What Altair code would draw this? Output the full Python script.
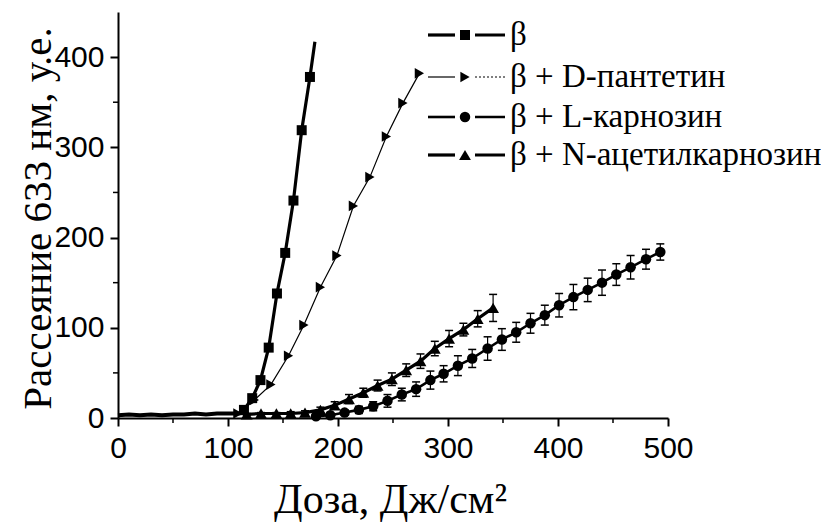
import altair as alt
import pandas as pd

# ---------------- data ----------------
NAMES = ["β", "β + D-пантетин", "β + L-карнозин", "β + N-ацетилкарнозин"]

# common flat start of all curves (before aggregation begins)
base_dose = [0, 10, 20, 30, 40, 50, 60, 70, 80, 90, 100, 110, 116]
base_val = [3, 4, 3, 4, 3, 4, 4, 5, 4, 5, 5, 5, 6]

# β
b_dose = [114.5, 122, 129.5, 137, 144.5, 152, 159.5, 167, 174.5, 179]
b_val = [9, 22, 42, 78, 138, 183, 241, 319, 378, 417]

# β + D-пантетин
d_dose = [109, 124, 139, 155, 169, 184, 199, 214, 229, 244, 259, 274]
d_val = [5, 20, 37, 69, 103, 145, 180, 235, 267, 312, 349, 382]

# β + L-карнозин
l_dose = [180, 193, 206, 219, 232, 245, 258, 271, 284, 296, 309, 322, 336,
          349, 362, 375, 388, 401, 414, 427, 440, 453, 466, 480, 493]
l_val = [2, 3, 6, 9, 13, 19, 26, 32, 42, 49, 58, 66, 77,
         87, 95, 105, 114, 125, 134, 142, 150, 159, 167, 176, 184]
l_err = [1, 2, 3, 4, 5, 7, 7, 8, 10, 9, 11, 10, 13,
         12, 11, 11, 11, 13, 14, 13, 14, 12, 13, 11, 9]

# β + N-ацетилкарнозин
n_dose = [117, 130, 144, 157, 170, 184, 197, 210, 223, 236, 249, 262, 275,
          288, 301, 314, 327, 341]
n_val = [4, 5, 5, 5, 6, 9, 14, 21, 28, 36, 43, 53, 63, 77, 88, 98, 110, 122]
n_err = [1, 1, 1, 2, 2, 3, 4, 5, 5, 6, 7, 7, 8, 8, 9, 7, 9, 15]

X_TICKS = [0, 100, 200, 300, 400, 500]
X_MINOR = [50, 150, 250, 350, 450]
Y_TICKS = [0, 100, 200, 300, 400]
Y_MINOR = [50, 150, 250, 350]

# ---------------- tables ----------------
SERIES = [(NAMES[0], b_dose, b_val, None), (NAMES[1], d_dose, d_val, None),
          (NAMES[2], l_dose, l_val, l_err), (NAMES[3], n_dose, n_val, n_err)]

# per-series styling (not data)
STYLE = {
    NAMES[0]: dict(shape="square", size=100, width=3.2, dash=[1, 0]),
    NAMES[1]: dict(shape="triangle-right", size=115, width=1.2, dash=[2, 2]),
    NAMES[2]: dict(shape="circle", size=110, width=2.6, dash=[1, 0]),
    NAMES[3]: dict(shape="triangle-up", size=140, width=3.2, dash=[1, 0]),
}

W, H = 550, 406
LEG_Y = [23, 65, 105, 143]

xs = alt.Scale(domain=[0, 500], nice=False)
ys = alt.Scale(domain=[0, 450], nice=False)

SANS = "Liberation Sans"
SERIF = "Liberation Serif"

x_axis = alt.Axis(values=X_TICKS, title="Доза, Дж/см²", titleFont=SERIF,
                  titleFontSize=42, titleFontWeight="normal", titleColor="black",
                  titleX=272, titleY=94, titleBaseline="alphabetic",
                  labelFont=SANS, labelFontSize=30, labelColor="black",
                  labelPadding=7, labelFlush=False, tickSize=8, tickWidth=2,
                  tickColor="black", domainColor="black", domainWidth=2, grid=False)
y_axis = alt.Axis(values=Y_TICKS, title="Рассеяние 633 нм, у.е.", titleFont=SERIF,
                  titleFontSize=41, titleFontWeight="normal", titleColor="black",
                  titleX=-68, titleY=206, titleAngle=270, titleBaseline="alphabetic",
                  titleAlign="center",
                  labelFont=SANS, labelFontSize=30, labelColor="black",
                  labelPadding=6, labelFlush=False, tickSize=8, tickWidth=2,
                  tickColor="black", domainColor="black", domainWidth=2, grid=False)

X = alt.X("dose:Q", scale=xs, axis=x_axis)
Y = alt.Y("val:Q", scale=ys, axis=y_axis)

layers = []
base_df = pd.DataFrame({"dose": base_dose, "val": base_val})
layers.append(alt.Chart(base_df).mark_line(color="black", strokeWidth=4).encode(x=X, y=Y))

for name, ds, vs, es in SERIES:
    st = STYLE[name]
    sdf = pd.DataFrame({"dose": ds, "val": vs})
    layers.append(alt.Chart(sdf).mark_line(color="black", strokeWidth=st["width"]).encode(x=X, y=Y))
    if es is not None:
        edf = pd.DataFrame({"dose": ds, "lo": [v - e for v, e in zip(vs, es)],
                            "hi": [v + e for v, e in zip(vs, es)]})
        layers.append(alt.Chart(edf).mark_rule(color="black", strokeWidth=1.2).encode(
            x=alt.X("dose:Q", scale=xs), y=alt.Y("lo:Q", scale=ys), y2="hi:Q"))
        for fld in ["lo", "hi"]:
            layers.append(alt.Chart(edf).mark_tick(color="black", orient="horizontal", size=8,
                                                   thickness=1.5, opacity=1).encode(
                x=alt.X("dose:Q", scale=xs), y=alt.Y(f"{fld}:Q", scale=ys)))
    layers.append(alt.Chart(sdf).transform_filter("datum.val <= 400").mark_point(
        filled=True, color="black", opacity=1, shape=st["shape"], size=st["size"]
    ).encode(x=X, y=Y))

# minor ticks
layers.append(alt.Chart(pd.DataFrame({"t": X_MINOR})).mark_rule(color="black", strokeWidth=1.5).encode(
    x=alt.X("t:Q", scale=xs), y=alt.value(H), y2=alt.value(H + 5)))
layers.append(alt.Chart(pd.DataFrame({"t": Y_MINOR})).mark_rule(color="black", strokeWidth=1.5).encode(
    y=alt.Y("t:Q", scale=ys), x=alt.value(0), x2=alt.value(-5)))

# ---------------- legend ----------------
for name, ly in zip(NAMES, LEG_Y):
    st = STYLE[name]
    ldf = pd.DataFrame({"series": [name]})
    layers.append(alt.Chart(ldf).mark_rule(color="black", strokeWidth=st["width"]).encode(
        x=alt.value(310), x2=alt.value(337), y=alt.value(ly)))
    layers.append(alt.Chart(ldf).mark_rule(color="black", strokeWidth=st["width"],
                                           strokeDash=st["dash"]).encode(
        x=alt.value(357), x2=alt.value(387), y=alt.value(ly)))
    layers.append(alt.Chart(ldf).mark_point(filled=True, color="black", opacity=1,
                                            shape=st["shape"], size=st["size"]).encode(
        x=alt.value(347), y=alt.value(ly)))
    layers.append(alt.Chart(ldf).mark_text(align="left", baseline="middle", font=SERIF,
                                           fontSize=33, color="black").encode(
        x=alt.value(392), y=alt.value(ly), text="series:N"))

chart = alt.layer(*layers).properties(
    width=W, height=H,
    autosize=alt.AutoSizeParams(type="none"),
    padding={"left": 118, "top": 12, "right": 153, "bottom": 106},
    background="white",
).configure_view(stroke=None)

chart.save("out.html", embed_options={"renderer": "svg", "actions": False})
